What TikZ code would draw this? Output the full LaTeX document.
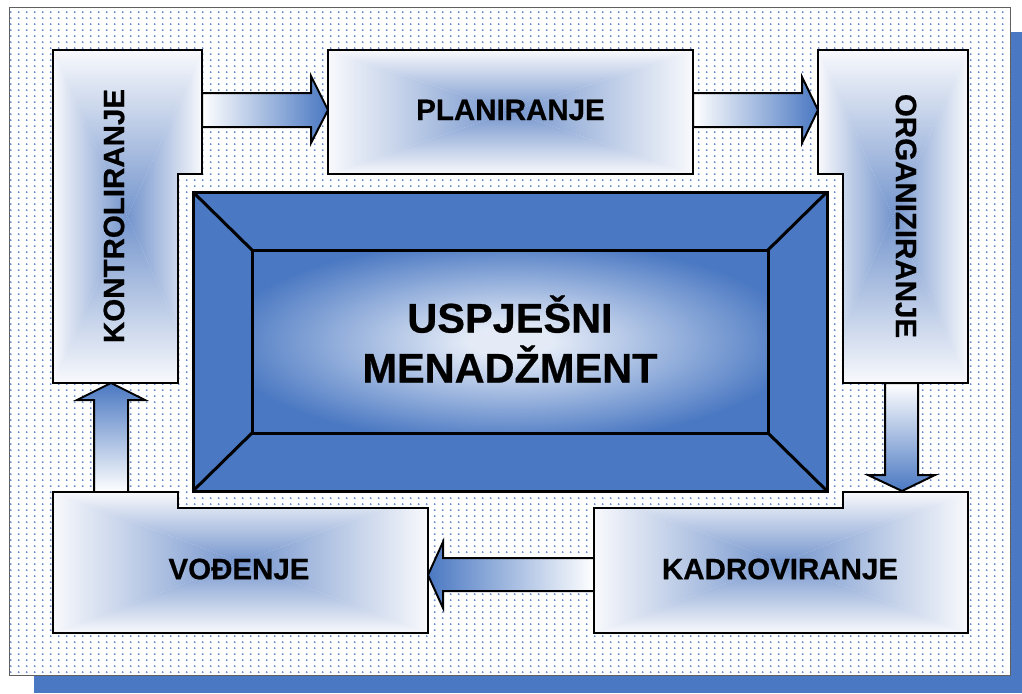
\documentclass[tikz,border=0pt]{standalone}
\usepackage{fontspec}
\setmainfont{Liberation Sans}[BoldFeatures={FakeBold=0.6}]
\usetikzlibrary{patterns.meta}
\definecolor{dotblue}{HTML}{5A84CB}
\definecolor{shadowblue}{HTML}{4A78C2}
\definecolor{mainblue}{HTML}{4A78C2}
\definecolor{glow}{HTML}{E4EBF7}
\definecolor{boxedge}{HTML}{F8F9FC}
\definecolor{boxmid}{HTML}{7495CD}
\definecolor{arrowblue}{HTML}{4A78C2}
\definecolor{framegray}{HTML}{606060}
\pgfdeclareradialshading{centerglow}{\pgfpoint{0bp}{0bp}}{color(0bp)=(glow); color(4bp)=(glow); color(28bp)=(mainblue); color(50bp)=(mainblue)}
\tikzdeclarepattern{
  name=bluedots,
  type=uncolored,
  bounding box={(0pt,0pt) and (7.7pt,6.3pt)},
  tile size={(7.7pt,6.3pt)},
  code={\pgfpathcircle{\pgfpoint{3.85pt}{3.15pt}}{1.1pt}\pgfusepath{fill}}
}
\tikzset{
  boxline/.style={draw=black, line width=2pt},
  arrowline/.style={draw=black, line width=2pt},
  lbl/.style={font=\fontsize{29.5}{34}\selectfont\bfseries, inner sep=0pt},
  bigl/.style={font=\fontsize{41.5}{50}\selectfont\bfseries, inner sep=0pt, align=center},
}
\newcommand\shadebox[5]{%
  \pgfmathsetmacro\bcx{(#2+#4)/2}\pgfmathsetmacro\bcy{(#3+#5)/2}%
  \begin{scope}
    \clip #1;
    \fill[boxedge] (#2,#3) rectangle (#4,#5);
    \path[left color=boxedge,right color=boxmid] (#2,#3) -- (#2,#5) -- (\bcx,\bcy) -- cycle;
    \path[left color=boxmid,right color=boxedge] (#4,#3) -- (#4,#5) -- (\bcx,\bcy) -- cycle;
    \path[top color=boxedge,bottom color=boxmid] (#2,#3) -- (#4,#3) -- (\bcx,\bcy) -- cycle;
    \path[top color=boxmid,bottom color=boxedge] (#2,#5) -- (#4,#5) -- (\bcx,\bcy) -- cycle;
  \end{scope}
  \draw[boxline] #1;}
\begin{document}
\begin{tikzpicture}[x=1pt,y=-1pt]
\useasboundingbox (0,0) rectangle (1022,693);
% shadow and frame
\fill[shadowblue] (34,32) rectangle (1022,693);
\fill[white] (9,8) rectangle (1010,675);
\path[pattern=bluedots, pattern color=dotblue] (9,8) rectangle (1010,675);
\draw[framegray, line width=1pt] (9,8) rectangle (1010,675);
% central box
\fill[mainblue] (193,192) rectangle (827,491);
\shade[shading=centerglow] (252,250) rectangle (768,433);
\draw[line width=3pt, line join=miter] (193,192) rectangle (827,491);
\draw[line width=3pt] (252,250) rectangle (768,433);
\draw[line width=3pt] (193,192) -- (252,250) (827,192) -- (768,250) (193,491) -- (252,433) (827,491) -- (768,433);
\node[bigl] (center) at (510,339) {USPJEŠNI\\MENADŽMENT};
% arrows
\path[arrowline, left color=white, right color=arrowblue] (202,93) -- (311,93) -- (311,76) -- (328,110) -- (311,143) -- (311,127) -- (202,127) -- cycle;
\path[arrowline, left color=white, right color=arrowblue] (693,93) -- (802,93) -- (802,77) -- (818,110) -- (802,143) -- (802,127) -- (693,127) -- cycle;
\path[arrowline, top color=white, bottom color=arrowblue] (885,383) -- (885,475) -- (868,475) -- (902,491) -- (935,475) -- (918,475) -- (918,383) -- cycle;
\path[arrowline, left color=arrowblue, right color=white] (594,558) -- (443,558) -- (443,542) -- (428,575) -- (443,608) -- (443,591) -- (594,591) -- cycle;
\path[arrowline, top color=arrowblue, bottom color=white] (94,492) -- (94,400) -- (77,400) -- (111,383) -- (145,400) -- (128,400) -- (128,492) -- cycle;
% boxes
\shadebox{(53,50) -- (202,50) -- (202,174) -- (178,174) -- (178,383) -- (53,383) -- cycle}{53}{50}{202}{383}
\shadebox{(328,50) -- (693,50) -- (693,174) -- (328,174) -- cycle}{328}{50}{693}{174}
\shadebox{(818,50) -- (968,50) -- (968,383) -- (843,383) -- (843,174) -- (818,174) -- cycle}{818}{50}{968}{383}
\shadebox{(594,508) -- (843,508) -- (843,492) -- (968,492) -- (968,633) -- (594,633) -- cycle}{594}{492}{968}{633}
\shadebox{(53,492) -- (178,492) -- (178,508) -- (428,508) -- (428,633) -- (53,633) -- cycle}{53}{492}{428}{633}
% labels
\node[lbl, rotate=90] (kontrol) at (114,216) {KONTROLIRANJE};
\node[lbl] (plan) at (510.5,110) {PLANIRANJE};
\node[lbl, rotate=-90] (organ) at (906,216) {ORGANIZIRANJE};
\node[lbl] (kadr) at (780,569) {KADROVIRANJE};
\node[lbl] (vod) at (239,569) {VOĐENJE};
\end{tikzpicture}
\end{document}
